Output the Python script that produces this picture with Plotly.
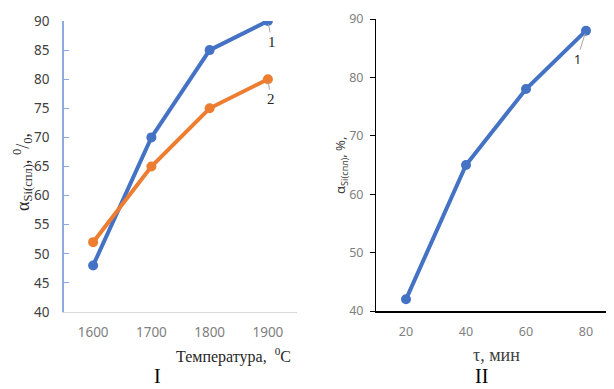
import plotly.graph_objects as go

temp = [1600, 1700, 1800, 1900]
alpha1 = [48, 70, 85, 90]
alpha2 = [52, 65, 75, 80]
tau = [20, 40, 60, 80]
alpha_tau = [42, 65, 78, 88]

BLUE = "#4472C4"
ORANGE = "#ED7D31"
SERIF = "Liberation Serif, Times New Roman, serif"
SANS = "Noto Sans, Open Sans, sans-serif"
TICK_LX = dict(family=SANS, size=13.5, color="#808080")
TICK_LY = dict(family=SANS, size=13.5, color="#404040")
TICK_R = dict(family=SANS, size=12.5, color="#7F7F7F")

W, H, OFF = 614, 389, 8


def fx(px):
    return (px - OFF) / W


def fy(py):
    return 1 - (py - OFF) / H


fig = go.Figure()
fig.add_trace(go.Scatter(x=temp, y=alpha1, mode="lines+markers",
                         line=dict(color=BLUE, width=4), marker=dict(size=10, color=BLUE),
                         xaxis="x", yaxis="y", showlegend=False))
fig.add_trace(go.Scatter(x=temp, y=alpha2, mode="lines+markers",
                         line=dict(color=ORANGE, width=4), marker=dict(size=10, color=ORANGE),
                         xaxis="x", yaxis="y", showlegend=False))
fig.add_trace(go.Scatter(x=tau, y=alpha_tau, mode="lines+markers",
                         line=dict(color=BLUE, width=4), marker=dict(size=10, color=BLUE),
                         xaxis="x2", yaxis="y2", showlegend=False))

fig.update_layout(
    width=W, height=H,
    margin=dict(l=0, r=0, t=0, b=0, autoexpand=False),
    paper_bgcolor="white", plot_bgcolor="white",
    xaxis=dict(domain=[fx(64), fx(297)], range=[1550, 1950], tickvals=temp, automargin=False,
               showgrid=False, zeroline=False, showline=True, linecolor="#D9D9D9", linewidth=1,
               ticks="", tickfont=TICK_LX, ticklabelstandoff=8, anchor="y"),
    yaxis=dict(domain=[fy(312), fy(21)], range=[40, 90], dtick=5, automargin=False,
               showgrid=False, zeroline=False, showline=True, linecolor="#8FAADC", linewidth=1.5,
               ticks="inside", ticklen=5, tickcolor="#8FAADC", tickfont=TICK_LY,
               ticklabelstandoff=10, anchor="x"),
    xaxis2=dict(domain=[fx(376), min(1.0, fx(616))], range=[10, 90], tickvals=tau, automargin=False,
                showgrid=False, zeroline=False, showline=True, linecolor="black", linewidth=1.5,
                ticks="", tickfont=TICK_R, ticklabelstandoff=8, anchor="y2"),
    yaxis2=dict(domain=[fy(311), fy(19)], range=[40, 90], dtick=10, automargin=False,
                showgrid=False, zeroline=False, showline=True, linecolor="black", linewidth=1,
                ticks="outside", ticklen=5, tickcolor="black", tickfont=TICK_R,
                ticklabelstandoff=4, anchor="x2"),
)

anns = [
    dict(x=1900, y=90, xref="x", yref="y", text="1", showarrow=True, ax=4, ay=21,
         arrowhead=0, arrowcolor="#A6A6A6", arrowwidth=1, standoff=3,
         font=dict(family=SERIF, size=15, color="#262626")),
    dict(x=1900, y=80, xref="x", yref="y", text="2", showarrow=True, ax=3, ay=20,
         arrowhead=0, arrowcolor="#A6A6A6", arrowwidth=1, standoff=3,
         font=dict(family=SERIF, size=15, color="#262626")),
    dict(x=80, y=88, xref="x2", yref="y2", text="1", showarrow=True, ax=-9, ay=29,
         arrowhead=0, arrowcolor="#A6A6A6", arrowwidth=1, standoff=3,
         font=dict(family=SANS, size=12.5, color="#262626")),
]
paper_texts = [
    (23, 172, "α<sub>Si(спл)</sub>, <sup>0</sup>/<sub>0</sub>,", -90, dict(family=SERIF, size=18, color="#262626")),
    (341, 166, "α<sub>Si(спл)</sub>, %,", -90, dict(family=SANS, size=13, color="#404040")),
    (233, 355, "Температура,  <sup>0</sup>C", 0, dict(family=SERIF, size=16, color="#262626")),
    (157, 376, "I", 0, dict(family=SERIF, size=20, color="black")),
    (496, 355, "τ, мин", 0, dict(family=SERIF, size=18, color="#404040")),
    (481, 376, "II", 0, dict(family=SERIF, size=20, color="black")),
]
for px, py, txt, ang, fnt in paper_texts:
    anns.append(dict(x=fx(px), y=fy(py), xref="paper", yref="paper", text=txt, showarrow=False,
                     textangle=ang, xanchor="center", yanchor="middle", font=fnt))
fig.update_layout(annotations=anns)

fig.write_html("out.html")
